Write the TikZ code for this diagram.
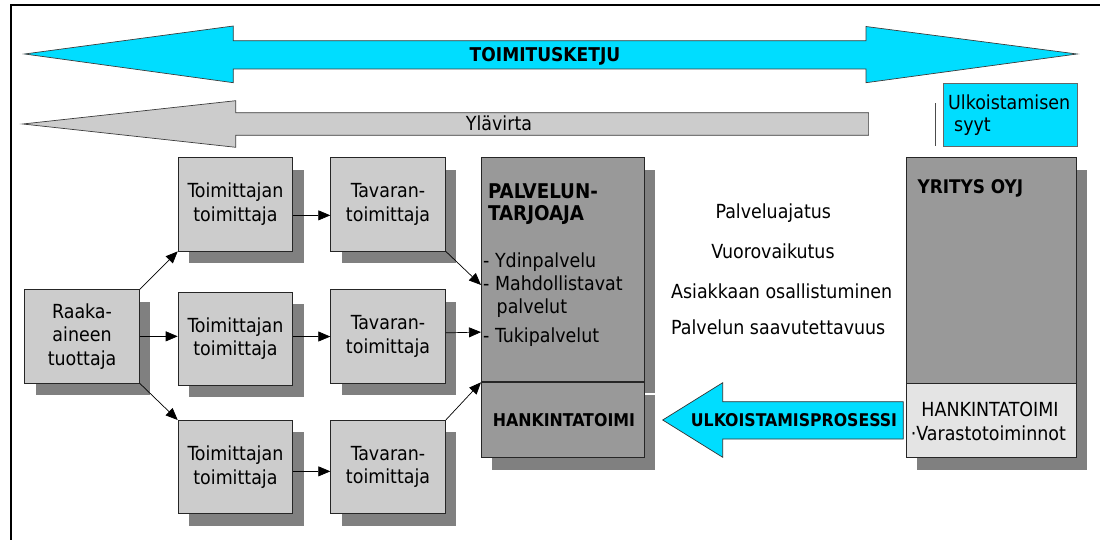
\documentclass[tikz,border=0pt]{standalone}
\usepackage{fontspec}
\setmainfont{DejaVu Sans Condensed}
\usetikzlibrary{arrows.meta,shadows,calc}

\definecolor{chaincyan}{RGB}{0,221,255}
\definecolor{boxgray}{RGB}{204,204,204}
\definecolor{darkbox}{RGB}{153,153,153}
\definecolor{shadowgray}{RGB}{128,128,128}
\definecolor{lightbox}{RGB}{228,228,228}
\definecolor{edgegray}{RGB}{60,60,60}

\newcommand\regfont{\fontsize{19.4}{23.7}\selectfont}
\newcommand\hfont[1]{\fontsize{#1}{#1}\selectfont\bfseries}

\tikzset{
  card/.style={rectangle, draw=black!85, line width=0.8pt, fill=boxgray,
    inner sep=0pt, align=center, font=\regfont, anchor=north west,
    minimum width=114.7pt, minimum height=93.3pt,
    drop shadow={shadow xshift=11pt, shadow yshift=-12pt, fill=shadowgray, opacity=1}},
  block/.style={card, fill=darkbox},
  label/.style={inner sep=0pt, anchor=base, font=\regfont},
  flow/.style={line width=0.7pt, -{Triangle[length=12pt,width=10pt]}},
  bigarrow/.style={draw=edgegray, line width=0.7pt},
}

\begin{document}
\begin{tikzpicture}[x=1pt,y=-1pt]
\useasboundingbox (0,0) rectangle (1100,540);

% frame
\draw[line width=2pt] (11,542) -- (11,5.5) -- (1102,5.5);

% supply chain double arrow
\draw[bigarrow, fill=chaincyan]
  (24.6,54) -- (233.3,26) -- (233.3,40.7) -- (866,40.7) -- (866,26.5)
  -- (1077,54) -- (866,82.7) -- (866,69) -- (233.3,69) -- (233.3,82.7) -- cycle;
\node[label, font=\hfont{19}] (chain) at (545,61.5) {TOIMITUSKETJU};

% upstream arrow
\draw[bigarrow, fill=boxgray]
  (22.8,124) -- (235.7,100.7) -- (235.7,112.7) -- (868.6,112.7)
  -- (868.6,135.3) -- (235.7,135.3) -- (235.7,147.3) -- cycle;
\node[label] (up) at (499,130.5) {Ylävirta};

% reasons for outsourcing
\node[rectangle, draw=black!60, line width=0.7pt, fill=chaincyan, anchor=north west,
  minimum width=133.4pt, minimum height=63pt, inner sep=0pt] (why) at (943.3,82.7) {};
\node[label, anchor=base west] (why1) at (948,109.3) {Ulkoistamisen};
\node[label, anchor=base west] (why2) at (954,131.7) {syyt};
\draw[draw=black!70, line width=0.8pt] (935,103.3) -- (935,145.7);

% supplier network
\node[card] (raw) at (24.3,289.3) {Raaka-\\aineen\\tuottaja};
\node[card] (s1) at (177.7,157.3) {Toimittajan\\toimittaja};
\node[card] (t1) at (330.3,157.3) {Tavaran-\\toimittaja};
\node[card] (s2) at (177.7,291.7) {Toimittajan\\toimittaja};
\node[card] (t2) at (330.3,289.3) {Tavaran-\\toimittaja};
\node[card] (s3) at (177.7,420) {Toimittajan\\toimittaja};
\node[card] (t3) at (330.3,420) {Tavaran-\\toimittaja};

% service provider
\node[block, minimum width=163pt, minimum height=223.7pt] (pal) at (481,157.3) {};
\node[block, minimum width=163pt, minimum height=75pt] (hank) at (481,382.3) {};
\node[label, anchor=base west, font=\hfont{20.3}] (pal1) at (488,198.3) {PALVELUN-};
\node[label, anchor=base west, font=\hfont{20.3}] (pal2) at (488,220.7) {TARJOAJA};
\node[label, anchor=base west] (li1) at (483,267) {- Ydinpalvelu};
\node[label, anchor=base west] (li2) at (483,290.3) {- Mahdollistavat};
\node[label, anchor=base west] (li3) at (496.5,313.7) {palvelut};
\node[label, anchor=base west] (li4) at (483,342) {- Tukipalvelut};
\node[label, font=\hfont{17.6}] (hank1) at (563.9,426.5) {HANKINTATOIMI};

% service characteristics
\node[label] (c1) at (773.3,218.3) {Palveluajatus};
\node[label] (c2) at (773,258.3) {Vuorovaikutus};
\node[label] (c3) at (781.7,298.3) {Asiakkaan osallistuminen};
\node[label] (c4) at (778.3,334.5) {Palvelun saavutettavuus};

% company
\node[block, minimum width=169.7pt, minimum height=225.4pt] (firm) at (906,157.3) {};
\node[block, fill=lightbox, minimum width=169.7pt, minimum height=74.6pt] (firmbuy) at (906,382.7) {};
\node[label, anchor=base west, font=\hfont{18.8}] (firm1) at (917.3,194) {YRITYS OYJ};
\node[label] (fb1) at (990,416) {HANKINTATOIMI};
\node[label, anchor=base west] (fb2) at (910.7,440) {·Varastotoiminnot};

% outsourcing process arrow
\draw[bigarrow, draw=black!80, fill=chaincyan]
  (662.7,420) -- (722.7,382.7) -- (722.7,401.7) -- (903.3,401.7)
  -- (903.3,439) -- (722.7,439) -- (722.7,457.3) -- cycle;
\node[label, font=\hfont{17.5}] (outs) at (794,426.5) {ULKOISTAMISPROSESSI};

% flows
\draw[flow] (raw.north east) -- (s1.south west);
\draw[flow] (raw.east) -- (raw.east -| s2.west);
\draw[flow] (raw.south east) -- (s3.north west);
\draw[flow] ($(s1.east)+(0,11)$) -- ($(t1.west)+(0,11)$);
\draw[flow] ($(s2.east)+(0,-2.3)$) -- ($(t2.west)+(0,0.2)$);
\draw[flow] ($(s3.east)+(0,4.3)$) -- ($(t3.west)+(0,4.3)$);
\draw[flow] (t1.south east) -- ($(pal.north west)+(0,127.7)$);
\draw[flow] ($(t2.east)+(0,-3.5)$) -- ($(pal.north west)+(0,174.8)$);
\draw[flow] (t3.north east) -- (hank.north west);
\end{tikzpicture}
\end{document}
